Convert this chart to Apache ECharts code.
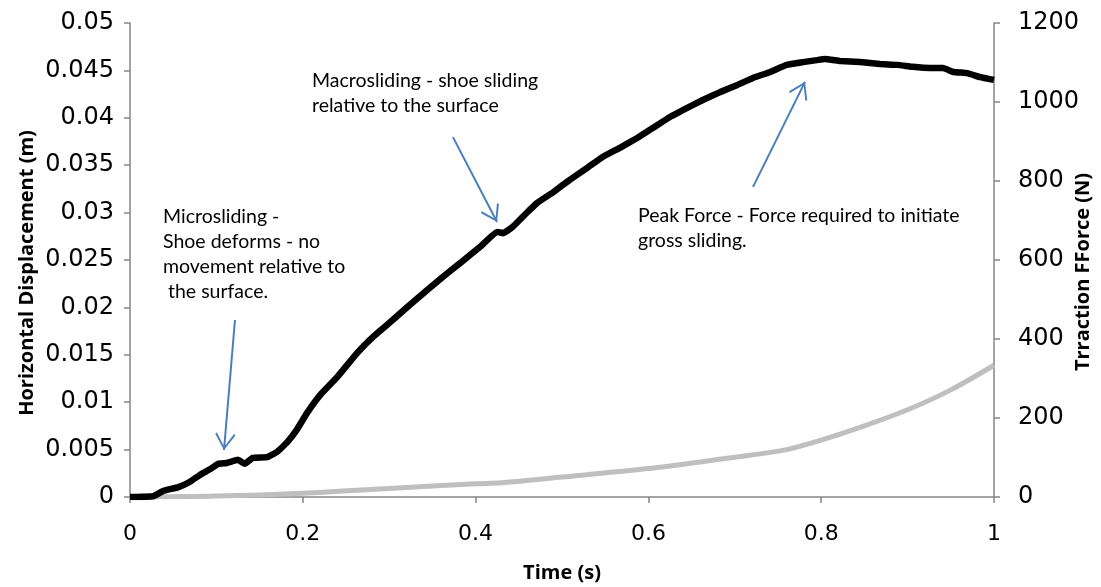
<!DOCTYPE html>
<html>
<head>
<meta charset="utf-8">
<script src="https://cdn.jsdelivr.net/npm/echarts@6/dist/echarts.min.js"></script>
<style>
html,body{margin:0;padding:0;background:#fff;}
#chart{width:1101px;height:587px;}
</style>
</head>
<body>
<div id="chart"></div>
<script>
// Time ticks
const timeTicks = [0, 0.2, 0.4, 0.6, 0.8, 1];

// Traction force (black, right axis)
const forceTime = [0, 0.027, 0.038, 0.056, 0.069, 0.081, 0.093, 0.102, 0.112, 0.125,
  0.133, 0.142, 0.159, 0.170, 0.182, 0.193, 0.205, 0.220, 0.240, 0.263,
  0.281, 0.304, 0.321, 0.344, 0.362, 0.382, 0.405, 0.425, 0.432, 0.443,
  0.459, 0.471, 0.490, 0.509, 0.529, 0.547, 0.567, 0.587, 0.605, 0.625,
  0.645, 0.663, 0.683, 0.703, 0.721, 0.741, 0.760, 0.779, 0.795, 0.804,
  0.822, 0.845, 0.868, 0.888, 0.906, 0.926, 0.941, 0.953, 0.969, 0.984, 1.0];
const forceN = [0, 2, 15, 25, 38, 56, 71, 84, 86, 94,
  84, 99, 101, 114, 139, 170, 213, 258, 304, 365,
  405, 448, 481, 524, 557, 592, 633, 671, 668, 684,
  719, 744, 772, 803, 833, 861, 884, 909, 934, 962,
  985, 1005, 1025, 1043, 1061, 1076, 1094, 1101, 1106, 1109,
  1104, 1101, 1096, 1094, 1089, 1086, 1086, 1076, 1073, 1063, 1056];

// Horizontal displacement (grey, left axis)
const dispTime = [0, 0.1, 0.2, 0.3, 0.4, 0.43, 0.5, 0.6, 0.66, 0.7, 0.76, 0.8, 0.85, 0.9, 0.95, 1.0];
const dispM = [0, 0.0001, 0.0004, 0.0009, 0.0014, 0.0015, 0.0021, 0.0030, 0.0037, 0.0042, 0.0050, 0.0060, 0.0075, 0.0092, 0.0113, 0.0139];

// Annotation arrows [startTime, startForce, endTime, endForce]
const arrowMicro = [0.1215, 448, 0.1088, 119];
const arrowMacro = [0.3738, 911, 0.4248, 696];
const arrowPeak = [0.7211, 785, 0.7813, 1051];

// Annotation texts
const textMicro = 'Microsliding -\nShoe deforms - no\nmovement relative to\n the surface.';
const textMacro = 'Macrosliding - shoe sliding\nrelative to the surface';
const textPeak = 'Peak Force - Force required to initiate\ngross sliding.';

const zip = (a, b) => a.map((v, i) => [v, b[i]]);
const arrowColor = '#4a7ebb';
const axisGrey = '#868686';
const chevron = 'path://M0,-11.2 L0.01,-11.2 L0,-11.19 Z M0,0 L10,10 L8.8,11.2 L0,2.2 L-8.8,11.2 L-10,10 Z';
const arrow = a => [{coord: [a[0], a[1]]}, {coord: [a[2], a[3]]}];

const tickFont = 'DejaVu Sans';
const textFont = 'Lato';
const titleFont = 'Open Sans';

const chart = echarts.init(document.getElementById('chart'), null, {renderer: 'canvas'});
chart.setOption({
  animation: false,
  backgroundColor: '#fff',
  grid: {left: 130, right: 107, top: 23, bottom: 90, containLabel: false, outerBoundsMode: 'none'},
  xAxis: {
    type: 'value', min: timeTicks[0], max: timeTicks[timeTicks.length - 1], interval: 0.2,
    name: 'Time (s)', nameLocation: 'middle', nameGap: 66, nameMoveOverlap: false,
    nameTextStyle: {fontFamily: titleFont, fontWeight: 'bold', fontSize: 20, color: '#000'},
    axisLine: {show: true, lineStyle: {color: axisGrey, width: 1.5}},
    axisTick: {show: true, inside: false, length: 6, lineStyle: {color: axisGrey, width: 1.5}},
    axisLabel: {fontFamily: tickFont, fontSize: 22, color: '#000', margin: 26},
    splitLine: {show: false}
  },
  yAxis: [{
    type: 'value', min: 0, max: 0.05, interval: 0.005, position: 'left',
    name: 'Horizontal Displacement (m)', nameLocation: 'middle', nameGap: 93, nameRotate: 90,
    nameMoveOverlap: false,
    nameTextStyle: {fontFamily: titleFont, fontWeight: 'bold', fontSize: 20, color: '#000',
      padding: [0, 26, 0, 0]},
    axisLine: {show: true, lineStyle: {color: axisGrey, width: 1.5}},
    axisTick: {show: true, inside: false, length: 6, lineStyle: {color: axisGrey, width: 1.5}},
    axisLabel: {fontFamily: tickFont, fontSize: 24, color: '#000', margin: 16},
    splitLine: {show: false}
  }, {
    type: 'value', min: 0, max: 1200, interval: 200, position: 'right',
    name: 'Trraction FForce (N)', nameLocation: 'middle', nameGap: 79, nameRotate: 90,
    nameMoveOverlap: false,
    nameTextStyle: {fontFamily: titleFont, fontWeight: 'bold', fontSize: 20, color: '#000',
      padding: [0, 24, 0, 0]},
    axisLine: {show: true, lineStyle: {color: axisGrey, width: 1.5}},
    axisTick: {show: true, inside: false, length: 6, lineStyle: {color: axisGrey, width: 1.5}},
    axisLabel: {fontFamily: tickFont, fontSize: 24, color: '#000', margin: 24,
      formatter: v => String(v)},
    splitLine: {show: false}
  }],
  series: [{
    name: 'Horizontal Displacement',
    type: 'line', yAxisIndex: 0, data: zip(dispTime, dispM),
    showSymbol: false, smooth: 0.3,
    lineStyle: {color: '#bfbfbf', width: 5}, itemStyle: {color: '#bfbfbf'}
  }, {
    name: 'Traction Force',
    type: 'line', yAxisIndex: 1, data: zip(forceTime, forceN),
    showSymbol: false, smooth: 0.1,
    lineStyle: {color: '#000', width: 6.5}, itemStyle: {color: '#000'},
    markLine: {
      silent: true, animation: false,
      symbol: ['none', chevron], symbolSize: [20, 34],
      label: {show: false},
      lineStyle: {color: arrowColor, width: 2, type: 'solid'},
      data: [arrow(arrowMicro), arrow(arrowMacro), arrow(arrowPeak)]
    }
  }],
  graphic: [
    {type: 'text', left: 163, top: 204, silent: true,
     style: {text: textMicro, font: '19.5px ' + textFont, fill: '#000', lineHeight: 25}},
    {type: 'text', left: 312, top: 68, silent: true,
     style: {text: textMacro, font: '19.5px ' + textFont, fill: '#000', lineHeight: 25}},
    {type: 'text', left: 638, top: 203, silent: true,
     style: {text: textPeak, font: '19.5px ' + textFont, fill: '#000', lineHeight: 25}}
  ]
});
</script>
</body>
</html>
